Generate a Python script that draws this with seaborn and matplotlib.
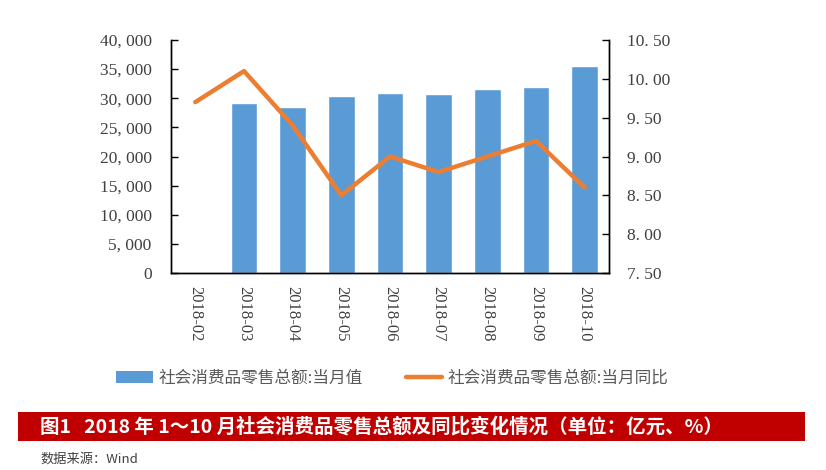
import numpy as np
import pandas as pd
import matplotlib
matplotlib.use("Agg")
import matplotlib.pyplot as plt
import seaborn as sns
from matplotlib.patches import Patch, Rectangle
from matplotlib.lines import Line2D
from matplotlib.ticker import FuncFormatter, FixedLocator

months = ["2018-02", "2018-03", "2018-04", "2018-05", "2018-06",
          "2018-07", "2018-08", "2018-09", "2018-10"]
retail_value = [np.nan, 29193, 28542, 30359, 30842, 30734, 31542, 32005, 35534]
retail_yoy = [9.7, 10.1, 9.4, 8.5, 9.0, 8.8, 9.0, 9.2, 8.6]
bar_label = "社会消费品零售总额:当月值"
line_label = "社会消费品零售总额:当月同比"
title_text = "图1   2018 年 1～10 月社会消费品零售总额及同比变化情况（单位：亿元、%）"
source_text = "数据来源：Wind"

sns.set_theme(style="white")
plt.rcParams['font.family'] = ['Noto Sans CJK SC', 'DejaVu Sans']

BLUE = "#5B9BD5"
ORANGE = "#ED7D31"
TICK_C = "#404040"
serif = "Liberation Serif"

df = pd.DataFrame({"month": months, "value": retail_value, "yoy": retail_yoy})
df["pos"] = np.arange(len(months))

fig = plt.figure(figsize=(8.26, 4.70), dpi=100)
ax = fig.add_axes([171/826, 1-273/470, (609-171)/826, (273-40)/470])

sns.barplot(data=df, x="month", y="value", order=months, color=BLUE,
            width=0.55, saturation=1, ax=ax)
ax.set_xlim(-0.5, len(months) - 0.5)
ax.set_ylim(0, 40000)
ax.set_yticks(np.arange(0, 40001, 5000))
ax.yaxis.set_major_formatter(FuncFormatter(lambda v, p: f"{v:,.0f}".replace(",", ", ")))
ax.set_xlabel("")
ax.set_ylabel("")

ax2 = ax.twinx()
sns.lineplot(x=df["pos"], y=df["yoy"], color=ORANGE, linewidth=3.2, ax=ax2)
ax2.set_ylim(7.5, 10.5)
ax2.set_yticks(np.arange(7.5, 10.51, 0.5))
ax2.yaxis.set_major_formatter(FuncFormatter(lambda v, p: f"{v:.2f}".replace(".", ". ")))
ax2.set_xlabel("")
ax2.set_ylabel("")
ax2.set_xlim(-0.5, len(months) - 0.5)

for a in (ax, ax2):
    for s in a.spines.values():
        s.set_color("black")
        s.set_linewidth(1.0)
    a.grid(False)
ax.spines["top"].set_visible(False)
ax2.spines["top"].set_visible(False)

ax.tick_params(axis="y", direction="in", length=5, width=1, colors="black",
               labelcolor=TICK_C, labelsize=12.5, pad=14)
ax2.tick_params(axis="y", direction="in", length=5, width=1, colors="black",
                labelcolor=TICK_C, labelsize=12.5, pad=13)
for lab in ax.get_yticklabels() + ax2.get_yticklabels():
    lab.set_fontfamily(serif)

ax.set_xticks(np.arange(len(months)))
ax.set_xticklabels(months, rotation=-90, fontfamily=serif, fontsize=12, color=TICK_C)
ax.xaxis.set_minor_locator(FixedLocator(np.arange(0.5, len(months) - 1, 1.0)))
ax.tick_params(axis="x", which="major", length=0, pad=9)
ax.tick_params(axis="x", which="minor", direction="in", length=5, width=1, color="black")

handles = [Patch(facecolor=BLUE, edgecolor="none"),
           Line2D([0], [0], color=ORANGE, linewidth=3.2)]
leg = fig.legend(handles, [bar_label, line_label], loc="center",
                 bbox_to_anchor=(0.475, 1 - 378/470), ncol=2, frameon=False,
                 fontsize=12, handlelength=2.2, handletextpad=0.3, columnspacing=2.6)
for t in leg.get_texts():
    t.set_color("#595959")

fig.patches.append(Rectangle((18/826, 1-441/470), (805-18)/826, 29/470,
                             transform=fig.transFigure, facecolor="#C00000",
                             edgecolor="none", zorder=0))
fig.text(40/826, 1-426.5/470, title_text, color="white", fontsize=14,
         fontweight="bold", va="center", ha="left")
fig.text(40/826, 1-459/470, source_text, color="#404040", fontsize=9.5,
         style="italic", va="center", ha="left")

fig.savefig("out.png", dpi=100)
